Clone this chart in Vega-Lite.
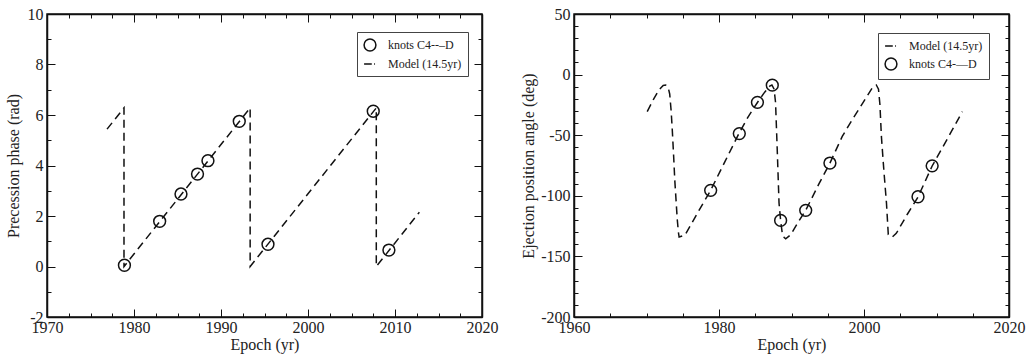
{
  "$schema": "https://vega.github.io/schema/vega-lite/v6.json",
  "background": "white",
  "padding": {"left": 4, "top": 5, "right": 5, "bottom": 5},
  "spacing": 20,
  "resolve": {"scale": {"shape": "independent"}, "legend": {"shape": "independent"}},
  "config": {
    "font": "Liberation Serif",
    "view": {"stroke": "#111", "strokeWidth": 1.5},
    "legend": {
      "labelFont": "Liberation Serif", "labelFontSize": 12, "labelColor": "#222",
      "strokeColor": "#444", "padding": 6, "rowPadding": 3, "symbolStrokeWidth": 1.5,
      "symbolStrokeColor": "#111", "symbolSize": 140, "labelOffset": 11
    }
  },
  "datasets": {
    "leftModel": [
      {"k": 0, "year": 1976.9, "phase": 5.44},
      {"k": 1, "year": 1978.85, "phase": 6.28},
      {"k": 2, "year": 1978.85, "phase": 0.0},
      {"k": 3, "year": 1993.35, "phase": 6.28},
      {"k": 4, "year": 1993.35, "phase": 0.0},
      {"k": 5, "year": 2007.85, "phase": 6.28},
      {"k": 6, "year": 2007.85, "phase": 0.0},
      {"k": 7, "year": 2012.8, "phase": 2.15}
    ],
    "leftKnots": [
      {"year": 1978.9, "phase": 0.05, "series": "knots C4--–D"},
      {"year": 1982.95, "phase": 1.79, "series": "knots C4--–D"},
      {"year": 1985.4, "phase": 2.87, "series": "knots C4--–D"},
      {"year": 1987.3, "phase": 3.66, "series": "knots C4--–D"},
      {"year": 1988.5, "phase": 4.19, "series": "knots C4--–D"},
      {"year": 1992.1, "phase": 5.75, "series": "knots C4--–D"},
      {"year": 1995.4, "phase": 0.88, "series": "knots C4--–D"},
      {"year": 2007.5, "phase": 6.15, "series": "knots C4--–D"},
      {"year": 2009.3, "phase": 0.65, "series": "knots C4--–D"}
    ],
    "rightModel": [
      {"k": 0, "year": 1970.1, "angle": -30.5},
      {"k": 1, "year": 1971.0, "angle": -20},
      {"k": 2, "year": 1971.7, "angle": -12.7},
      {"k": 3, "year": 1972.3, "angle": -9},
      {"k": 4, "year": 1972.65, "angle": -8.6},
      {"k": 5, "year": 1973.0, "angle": -11},
      {"k": 6, "year": 1973.2, "angle": -16},
      {"k": 7, "year": 1973.4, "angle": -30},
      {"k": 8, "year": 1973.56, "angle": -46},
      {"k": 9, "year": 1973.75, "angle": -68},
      {"k": 10, "year": 1973.9, "angle": -87},
      {"k": 11, "year": 1974.1, "angle": -106},
      {"k": 12, "year": 1974.25, "angle": -120},
      {"k": 13, "year": 1974.4, "angle": -130},
      {"k": 14, "year": 1974.5, "angle": -134},
      {"k": 15, "year": 1975.3, "angle": -132.5},
      {"k": 16, "year": 1976.2, "angle": -123},
      {"k": 17, "year": 1977.24, "angle": -112},
      {"k": 18, "year": 1978.85, "angle": -95.5},
      {"k": 19, "year": 1980.8, "angle": -72},
      {"k": 20, "year": 1982.76, "angle": -48.5},
      {"k": 21, "year": 1984.0, "angle": -35},
      {"k": 22, "year": 1985.3, "angle": -23},
      {"k": 23, "year": 1986.3, "angle": -14.5},
      {"k": 24, "year": 1987.0, "angle": -9.5},
      {"k": 25, "year": 1987.3, "angle": -8.6},
      {"k": 26, "year": 1987.6, "angle": -12},
      {"k": 27, "year": 1987.8, "angle": -23},
      {"k": 28, "year": 1988.05, "angle": -65},
      {"k": 29, "year": 1988.28, "angle": -106},
      {"k": 30, "year": 1988.5, "angle": -120.5},
      {"k": 31, "year": 1988.73, "angle": -131},
      {"k": 32, "year": 1989.0, "angle": -134.5},
      {"k": 33, "year": 1989.2, "angle": -135.5},
      {"k": 34, "year": 1989.9, "angle": -132},
      {"k": 35, "year": 1990.9, "angle": -122},
      {"k": 36, "year": 1991.96, "angle": -112},
      {"k": 37, "year": 1993.8, "angle": -90},
      {"k": 38, "year": 1995.3, "angle": -73},
      {"k": 39, "year": 1997.0, "angle": -51},
      {"k": 40, "year": 1998.4, "angle": -37},
      {"k": 41, "year": 1999.8, "angle": -23.7},
      {"k": 42, "year": 2001.1, "angle": -11.3},
      {"k": 43, "year": 2001.7, "angle": -8.6},
      {"k": 44, "year": 2002.0, "angle": -12},
      {"k": 45, "year": 2002.2, "angle": -25},
      {"k": 46, "year": 2002.4, "angle": -51},
      {"k": 47, "year": 2002.75, "angle": -80},
      {"k": 48, "year": 2003.1, "angle": -106},
      {"k": 49, "year": 2003.35, "angle": -132},
      {"k": 50, "year": 2003.9, "angle": -134},
      {"k": 51, "year": 2004.45, "angle": -131},
      {"k": 52, "year": 2006.0, "angle": -115},
      {"k": 53, "year": 2007.45, "angle": -101},
      {"k": 54, "year": 2009.4, "angle": -75.4},
      {"k": 55, "year": 2011.5, "angle": -53},
      {"k": 56, "year": 2013.56, "angle": -30.6}
    ],
    "rightKnots": [
      {"year": 1978.85, "angle": -95.5, "series": "knots C4-—D"},
      {"year": 1982.8, "angle": -48.7, "series": "knots C4-—D"},
      {"year": 1985.3, "angle": -22.9, "series": "knots C4-—D"},
      {"year": 1987.35, "angle": -8.7, "series": "knots C4-—D"},
      {"year": 1988.5, "angle": -120.3, "series": "knots C4-—D"},
      {"year": 1991.96, "angle": -112, "series": "knots C4-—D"},
      {"year": 1995.3, "angle": -73, "series": "knots C4-—D"},
      {"year": 2007.45, "angle": -100.8, "series": "knots C4-—D"},
      {"year": 2009.4, "angle": -75.3, "series": "knots C4-—D"}
    ]
  },
  "hconcat": [
    {
      "width": 435,
      "height": 303,
      "resolve": {"axis": {"x": "independent", "y": "independent"}},
      "layer": [
        {
          "data": {"name": "leftModel"},
          "mark": {"type": "line", "color": "#111", "strokeWidth": 1.5, "strokeDash": [8, 5]},
          "encoding": {
            "x": {"field": "year", "type": "quantitative",
              "scale": {"domain": [1970, 2020], "nice": false, "zero": false},
              "axis": {"orient": "bottom", "title": "Epoch (yr)", "values": [1970, 1980, 1990, 2000, 2010, 2020],
                "grid": false, "domain": true, "domainColor": "#111", "domainWidth": 1.5, "ticks": true, "tickColor": "#111", "tickSize": -8,
                "labelFont": "Liberation Serif", "labelFontSize": 16, "labelColor": "#222", "labelFlush": false, "labelOverlap": false,
                "titleFont": "Liberation Serif", "titleFontSize": 16, "titleFontWeight": "normal", "titleColor": "#222",
                "labelExpr": "'' + datum.value", "labelPadding": 10, "titlePadding": 1}},
            "y": {"field": "phase", "type": "quantitative",
              "scale": {"domain": [-2, 10], "nice": false, "zero": false},
              "axis": {"orient": "left", "title": "Precession phase (rad)", "values": [-2, 0, 2, 4, 6, 8, 10],
                "grid": false, "domain": true, "domainColor": "#111", "domainWidth": 1.5, "ticks": true, "tickColor": "#111", "tickSize": -8,
                "labelFont": "Liberation Serif", "labelFontSize": 16, "labelColor": "#222", "labelFlush": false, "labelOverlap": false,
                "titleFont": "Liberation Serif", "titleFontSize": 16, "titleFontWeight": "normal", "titleColor": "#222",
                "labelExpr": "datum.value < 0 ? '-' + (-datum.value) : '' + datum.value", "labelPadding": 12, "titlePadding": 6}},
            "order": {"field": "k", "type": "quantitative"}
          }
        },
        {
          "data": {"name": "leftKnots"},
          "mark": {"type": "point", "filled": false, "color": "#111", "strokeWidth": 1.5, "size": 140, "opacity": 1},
          "encoding": {
            "x": {"field": "year", "type": "quantitative",
              "scale": {"domain": [1970, 2020], "nice": false, "zero": false},
              "axis": {"orient": "top", "title": null, "labels": false, "values": [1970, 1980, 1990, 2000, 2010, 2020],
                "grid": false, "domain": true, "domainColor": "#111", "domainWidth": 1.5, "ticks": true, "tickColor": "#111", "tickSize": -8}},
            "y": {"field": "phase", "type": "quantitative",
              "scale": {"domain": [-2, 10], "nice": false, "zero": false},
              "axis": {"orient": "right", "title": null, "labels": false, "values": [-2, 0, 2, 4, 6, 8, 10],
                "grid": false, "domain": true, "domainColor": "#111", "domainWidth": 1.5, "ticks": true, "tickColor": "#111", "tickSize": -8}},
            "shape": {"field": "series", "type": "nominal",
              "scale": {"domain": ["knots C4--–D", "Model (14.5yr)"], "range": ["circle", "M-1,0H0.3M0.7,0H0.85"]},
              "legend": {"title": null, "orient": "none", "legendX": 310, "legendY": 18}}
          }
        },
        {
          "data": {"name": "leftKnots"},
          "mark": {"type": "point", "opacity": 0},
          "encoding": {
            "x": {"field": "year", "type": "quantitative",
              "scale": {"domain": [1970, 2020], "nice": false, "zero": false},
              "axis": {"orient": "bottom", "title": null, "labels": false, "domain": false, "grid": false, "values": [1972.5, 1975, 1977.5, 1982.5, 1985, 1987.5, 1992.5, 1995, 1997.5, 2002.5, 2005, 2007.5, 2012.5, 2015, 2017.5],
                "ticks": true, "tickColor": "#111", "tickSize": -4}},
            "y": {"field": "phase", "type": "quantitative",
              "scale": {"domain": [-2, 10], "nice": false, "zero": false},
              "axis": {"orient": "left", "title": null, "labels": false, "domain": false, "grid": false, "values": [-1, 1, 3, 5, 7, 9],
                "ticks": true, "tickColor": "#111", "tickSize": -4}}
          }
        },
        {
          "data": {"name": "leftKnots"},
          "mark": {"type": "point", "opacity": 0},
          "encoding": {
            "x": {"field": "year", "type": "quantitative",
              "scale": {"domain": [1970, 2020], "nice": false, "zero": false},
              "axis": {"orient": "top", "title": null, "labels": false, "domain": false, "grid": false, "values": [1972.5, 1975, 1977.5, 1982.5, 1985, 1987.5, 1992.5, 1995, 1997.5, 2002.5, 2005, 2007.5, 2012.5, 2015, 2017.5],
                "ticks": true, "tickColor": "#111", "tickSize": -4}},
            "y": {"field": "phase", "type": "quantitative",
              "scale": {"domain": [-2, 10], "nice": false, "zero": false},
              "axis": {"orient": "right", "title": null, "labels": false, "domain": false, "grid": false, "values": [-1, 1, 3, 5, 7, 9],
                "ticks": true, "tickColor": "#111", "tickSize": -4}}
          }
        }
      ]
    },
    {
      "width": 435,
      "height": 303,
      "resolve": {"axis": {"x": "independent", "y": "independent"}},
      "layer": [
        {
          "data": {"name": "rightModel"},
          "mark": {"type": "line", "color": "#111", "strokeWidth": 1.5, "strokeDash": [8, 5]},
          "encoding": {
            "x": {"field": "year", "type": "quantitative",
              "scale": {"domain": [1960, 2020], "nice": false, "zero": false},
              "axis": {"orient": "bottom", "title": "Epoch (yr)", "values": [1960, 1980, 2000, 2020],
                "grid": false, "domain": true, "domainColor": "#111", "domainWidth": 1.5, "ticks": true, "tickColor": "#111", "tickSize": -8,
                "labelFont": "Liberation Serif", "labelFontSize": 16, "labelColor": "#222", "labelFlush": false, "labelOverlap": false,
                "titleFont": "Liberation Serif", "titleFontSize": 16, "titleFontWeight": "normal", "titleColor": "#222",
                "labelExpr": "'' + datum.value", "labelPadding": 10, "titlePadding": 1}},
            "y": {"field": "angle", "type": "quantitative",
              "scale": {"domain": [-200, 50], "nice": false, "zero": false},
              "axis": {"orient": "left", "title": "Ejection position angle (deg)", "values": [-200, -150, -100, -50, 0, 50],
                "grid": false, "domain": true, "domainColor": "#111", "domainWidth": 1.5, "ticks": true, "tickColor": "#111", "tickSize": -8,
                "labelFont": "Liberation Serif", "labelFontSize": 16, "labelColor": "#222", "labelFlush": false, "labelOverlap": false,
                "titleFont": "Liberation Serif", "titleFontSize": 16, "titleFontWeight": "normal", "titleColor": "#222",
                "labelExpr": "datum.value < 0 ? '-' + (-datum.value) : '' + datum.value", "labelPadding": 12, "titlePadding": 4}},
            "order": {"field": "k", "type": "quantitative"}
          }
        },
        {
          "data": {"name": "rightKnots"},
          "mark": {"type": "point", "filled": false, "color": "#111", "strokeWidth": 1.5, "size": 140, "opacity": 1},
          "encoding": {
            "x": {"field": "year", "type": "quantitative",
              "scale": {"domain": [1960, 2020], "nice": false, "zero": false},
              "axis": {"orient": "top", "title": null, "labels": false, "values": [1960, 1980, 2000, 2020],
                "grid": false, "domain": true, "domainColor": "#111", "domainWidth": 1.5, "ticks": true, "tickColor": "#111", "tickSize": -8}},
            "y": {"field": "angle", "type": "quantitative",
              "scale": {"domain": [-200, 50], "nice": false, "zero": false},
              "axis": {"orient": "right", "title": null, "labels": false, "values": [-200, -150, -100, -50, 0, 50],
                "grid": false, "domain": true, "domainColor": "#111", "domainWidth": 1.5, "ticks": true, "tickColor": "#111", "tickSize": -8}},
            "shape": {"field": "series", "type": "nominal",
              "scale": {"domain": ["Model (14.5yr)", "knots C4-—D"], "range": ["M-1,0H0.3M0.7,0H0.85", "circle"]},
              "legend": {"title": null, "orient": "none", "legendX": 304, "legendY": 19}}
          }
        },
        {
          "data": {"name": "rightKnots"},
          "mark": {"type": "point", "opacity": 0},
          "encoding": {
            "x": {"field": "year", "type": "quantitative",
              "scale": {"domain": [1960, 2020], "nice": false, "zero": false},
              "axis": {"orient": "bottom", "title": null, "labels": false, "domain": false, "grid": false, "values": [1965, 1970, 1975, 1985, 1990, 1995, 2005, 2010, 2015],
                "ticks": true, "tickColor": "#111", "tickSize": -4}},
            "y": {"field": "angle", "type": "quantitative",
              "scale": {"domain": [-200, 50], "nice": false, "zero": false},
              "axis": {"orient": "left", "title": null, "labels": false, "domain": false, "grid": false, "values": [-190, -180, -170, -160, -140, -130, -120, -110, -90, -80, -70, -60, -40, -30, -20, -10, 10, 20, 30, 40],
                "ticks": true, "tickColor": "#111", "tickSize": -4}}
          }
        },
        {
          "data": {"name": "rightKnots"},
          "mark": {"type": "point", "opacity": 0},
          "encoding": {
            "x": {"field": "year", "type": "quantitative",
              "scale": {"domain": [1960, 2020], "nice": false, "zero": false},
              "axis": {"orient": "top", "title": null, "labels": false, "domain": false, "grid": false, "values": [1965, 1970, 1975, 1985, 1990, 1995, 2005, 2010, 2015],
                "ticks": true, "tickColor": "#111", "tickSize": -4}},
            "y": {"field": "angle", "type": "quantitative",
              "scale": {"domain": [-200, 50], "nice": false, "zero": false},
              "axis": {"orient": "right", "title": null, "labels": false, "domain": false, "grid": false, "values": [-190, -180, -170, -160, -140, -130, -120, -110, -90, -80, -70, -60, -40, -30, -20, -10, 10, 20, 30, 40],
                "ticks": true, "tickColor": "#111", "tickSize": -4}}
          }
        }
      ]
    }
  ]
}
